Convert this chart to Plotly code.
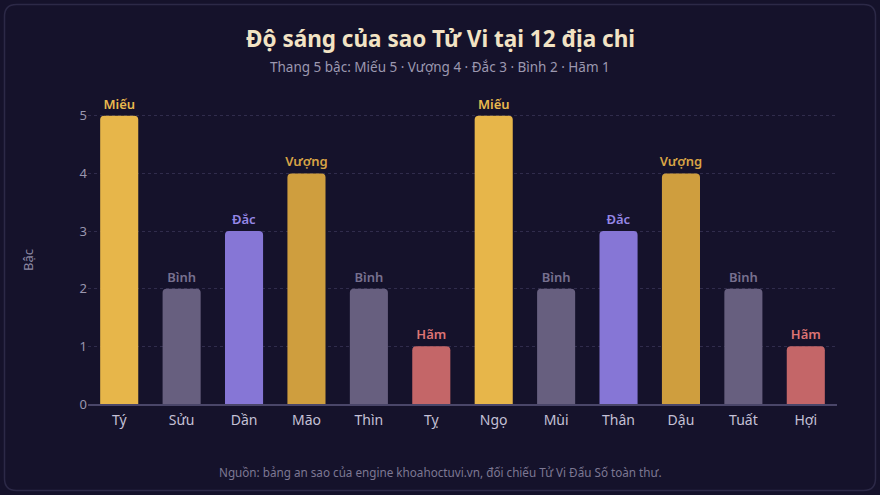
import plotly.graph_objects as go

# ---- data ----
branches = ["Tý", "Sửu", "Dần", "Mão", "Thìn", "Tỵ", "Ngọ", "Mùi", "Thân", "Dậu", "Tuất", "Hợi"]
levels = ["Miếu", "Bình", "Đắc", "Vượng", "Bình", "Hãm", "Miếu", "Bình", "Đắc", "Vượng", "Bình", "Hãm"]
level_score = {"Miếu": 5, "Vượng": 4, "Đắc": 3, "Bình": 2, "Hãm": 1}
bar_color = {"Miếu": "#E7B64A", "Vượng": "#CF9E3E", "Đắc": "#8676D6", "Bình": "#675F7F", "Hãm": "#C46668"}
text_color = {"Miếu": "#E9B94E", "Vượng": "#D8A446", "Đắc": "#9587E6", "Bình": "#77708F", "Hãm": "#DD7474"}

values = [level_score[l] for l in levels]

W, H = 880, 495
ML, MR, MT, MB = 88, 43, 87, 91
PW, PH = W - ML - MR, H - MT - MB

BG = "#15122B"

fig = go.Figure()
fig.add_trace(go.Bar(
    x=branches, y=values,
    marker=dict(color=[bar_color[l] for l in levels], line=dict(width=0), cornerradius=4),
    text=levels,
    textposition="outside", constraintext="none",
    textfont=dict(color=[text_color[l] for l in levels], size=13, family="Noto Sans", weight=600),
    cliponaxis=False,
    hoverinfo="skip",
))

def px2p(px, py):
    return (px - ML) / PW, (H - MB - py) / PH

x0, y0, x1, y1, r = 4.5, 4.5, 875.5, 490.5, 12
def P(px, py):
    a, b = px2p(px, py)
    return f"{a:.5f},{b:.5f}"
path = (f"M {P(x0+r, y0)} L {P(x1-r, y0)} Q {P(x1, y0)} {P(x1, y0+r)} "
        f"L {P(x1, y1-r)} Q {P(x1, y1)} {P(x1-r, y1)} "
        f"L {P(x0+r, y1)} Q {P(x0, y1)} {P(x0, y1-r)} "
        f"L {P(x0, y0+r)} Q {P(x0, y0)} {P(x0+r, y0)} Z")

cx = px2p(440, 0)[0]

fig.update_layout(
    width=W, height=H,
    margin=dict(l=ML, r=MR, t=MT, b=MB),
    paper_bgcolor=BG, plot_bgcolor=BG,
    bargap=0.39,
    showlegend=False,
    font=dict(family="Noto Sans", color="#B8B4CC"),
    shapes=[dict(type="path", xref="paper", yref="paper", path=path,
                 line=dict(color="#2C2947", width=1.5), fillcolor="rgba(0,0,0,0)", layer="below")],
    annotations=[
        dict(text="<b>Độ sáng của sao Tử Vi tại 12 địa chi</b>", x=cx, xref="paper",
             xanchor="center", y=px2p(0, 38)[1], yref="paper", yanchor="middle",
             showarrow=False, font=dict(size=22.5, color="#F2E3C4", family="Noto Sans")),
        dict(text="Thang 5 bậc: Miếu 5 · Vượng 4 · Đắc 3 · Bình 2 · Hãm 1",
             x=cx, xref="paper", xanchor="center",
             y=px2p(0, 67)[1], yref="paper", yanchor="middle",
             showarrow=False, font=dict(size=13.5, color="#9C98B0", family="Noto Sans")),
        dict(text="Nguồn: bảng an sao của engine khoahoctuvi.vn, đối chiếu Tử Vi Đẩu Số toàn thư.",
             x=cx, xref="paper", xanchor="center",
             y=px2p(0, 472)[1], yref="paper", yanchor="middle",
             showarrow=False, font=dict(size=11.7, color="#7D7893", family="Noto Sans")),
        dict(text="Bậc", x=px2p(28, 0)[0], xref="paper", xanchor="center",
             y=px2p(0, 260)[1], yref="paper", yanchor="middle", textangle=-90,
             showarrow=False, font=dict(size=13, color="#8C88A2", family="Noto Sans")),
    ],
    xaxis=dict(
        showgrid=False, showline=True, linecolor="#4A4669", linewidth=1.5,
        ticks="", tickfont=dict(size=14, color="#C4C0D6"), ticklabelstandoff=2,
        zeroline=False,
    ),
    yaxis=dict(
        range=[0, 5.5], tickvals=[0, 1, 2, 3, 4, 5],
        showgrid=True, gridcolor="#302C4C", griddash="dot", gridwidth=1,
        zeroline=False, showline=False, ticks="",
        tickfont=dict(size=13, color="#9A96AE"),
    ),
)

fig.write_html("out.html")
